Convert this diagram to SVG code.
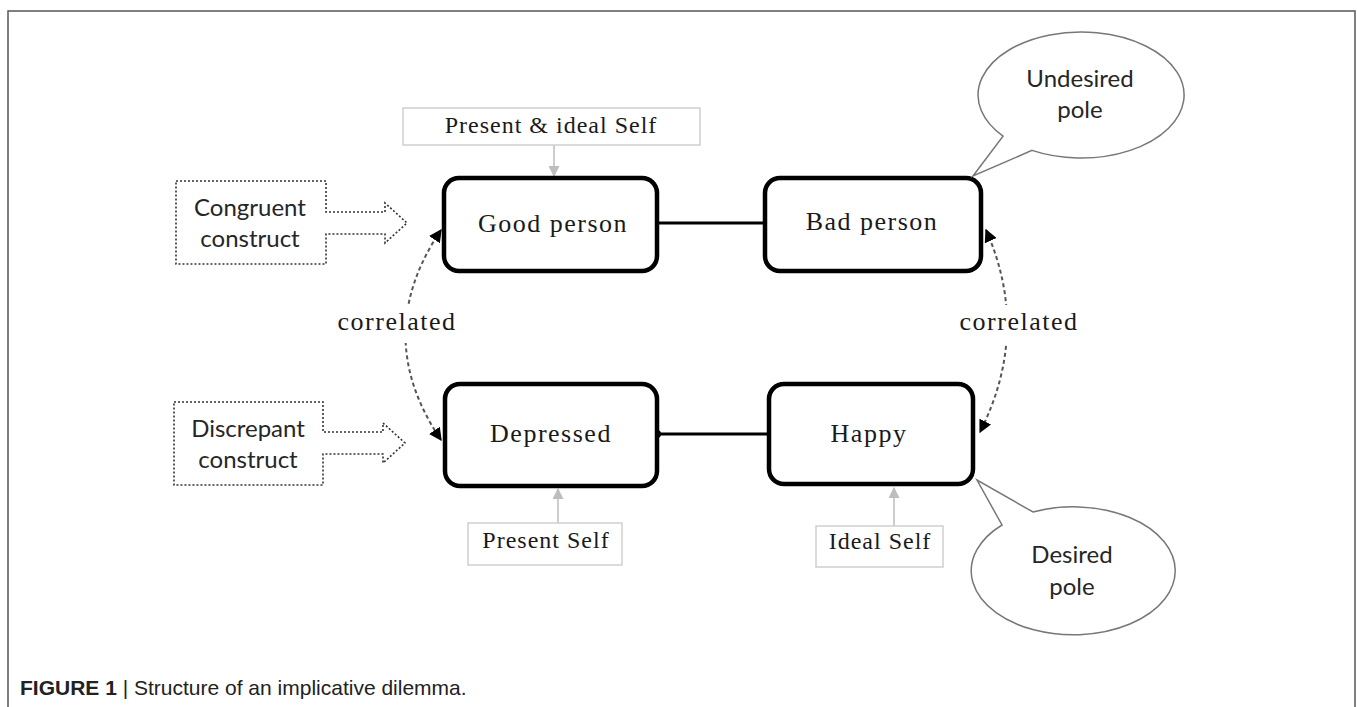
<svg xmlns="http://www.w3.org/2000/svg" width="1357" height="707" viewBox="0 0 1357 707">
<defs>
<style>
.node rect { fill:#fff; stroke:#000; stroke-width:4.5; }
.serif { font-family:"Liberation Serif","Times New Roman",serif; fill:#1a1a1a; }
.lbl { font-size:26px; letter-spacing:1.5px; text-anchor:middle; }
.self rect { fill:#fff; stroke:#cfcfcf; stroke-width:1.5; }
.self text { font-size:24px; letter-spacing:1px; text-anchor:middle; }
.sans { font-family:Lato,"Open Sans",sans-serif; font-size:24px; fill:#262626; text-anchor:middle; }
.dotted { fill:#fff; stroke:#333; stroke-width:1.6; stroke-dasharray:2 2; }
.bubble { fill:#fff; stroke:#777; stroke-width:1.5; }
.corr { fill:none; stroke:#555; stroke-width:2; stroke-dasharray:4 3; }
.gray { stroke:#bdbdbd; stroke-width:1.5; }
.solid { stroke:#000; stroke-width:3; }
.cap { font-family:"Liberation Sans",Arial,sans-serif; font-size:21px; fill:#222; }
</style>
<marker id="blk" viewBox="0 0 10 10" refX="9" refY="5" markerWidth="13" markerHeight="13" markerUnits="userSpaceOnUse" orient="auto-start-reverse"><path d="M0,0 L10,5 L0,10 z" fill="#000"/></marker>
<marker id="gry" viewBox="0 0 10 10" refX="9" refY="5" markerWidth="11" markerHeight="11" markerUnits="userSpaceOnUse" orient="auto"><path d="M0,0 L10,5 L0,10 z" fill="#bdbdbd"/></marker>
</defs>
<rect width="1357" height="707" fill="#fff"/>
<rect x="8" y="11" width="1347" height="710" fill="none" stroke="#555" stroke-width="1.5"/>

<g id="connectors">
<line class="solid" x1="657" y1="223" x2="765" y2="223"/>
<line class="solid" x1="657" y1="434" x2="769" y2="434"/>
<circle cx="657" cy="434" r="4" fill="#000"/>
<line class="gray" x1="554" y1="145" x2="554" y2="176" marker-end="url(#gry)"/>
<line class="gray" x1="558" y1="523" x2="558" y2="489" marker-end="url(#gry)"/>
<line class="gray" x1="894" y1="526" x2="894" y2="488" marker-end="url(#gry)"/>
<path class="corr" d="M441,230 Q370,335 441,440" marker-start="url(#blk)" marker-end="url(#blk)"/>
<path class="corr" d="M986,230 Q1031,331 980,432" marker-start="url(#blk)" marker-end="url(#blk)"/>
<rect x="334" y="305" width="126" height="38" fill="#fff"/>
<text class="serif lbl" x="397" y="330">correlated</text>
<rect x="956" y="305" width="126" height="38" fill="#fff"/>
<text class="serif lbl" x="1019" y="330">correlated</text>
</g>

<g id="good" class="node"><rect x="444" y="178" width="213" height="93" rx="15"/><text class="serif lbl" x="553" y="232">Good person</text></g>
<g id="bad" class="node"><rect x="765" y="178" width="216" height="93" rx="15"/><text class="serif lbl" x="872" y="230">Bad person</text></g>
<g id="depressed" class="node"><rect x="445" y="384" width="212" height="102" rx="15"/><text class="serif lbl" x="551" y="442">Depressed</text></g>
<g id="happy" class="node"><rect x="769" y="384" width="204" height="100" rx="15"/><text class="serif lbl" x="869" y="442">Happy</text></g>

<g id="present-ideal" class="self"><rect x="403" y="108" width="297" height="37"/><text class="serif" x="551" y="133">Present &amp; ideal Self</text></g>
<g id="present" class="self"><rect x="468" y="523" width="154" height="42"/><text class="serif" x="546" y="548">Present Self</text></g>
<g id="ideal" class="self"><rect x="816" y="526" width="127" height="41"/><text class="serif" x="880" y="549">Ideal Self</text></g>

<g id="congruent"><path class="dotted" d="M176,181 H326 V212 H385 V203 L407,223 L385,243 V234 H326 V264 H176 Z"/><text class="sans" x="250" y="216">Congruent</text><text class="sans" x="250" y="247">construct</text></g>
<g id="discrepant"><path class="dotted" d="M174,402 H323 V432 H383 V423 L405,443 L383,463 V454 H323 V485 H174 Z"/><text class="sans" x="248" y="437">Discrepant</text><text class="sans" x="248" y="468">construct</text></g>

<g id="undesired"><path class="bubble" d="M1032,150.4 A103,63 0 1 0 1003,136.1 L973,176 Z"/><text class="sans" x="1080" y="87">Undesired</text><text class="sans" x="1080" y="118">pole</text></g>
<g id="desired"><path class="bubble" d="M1033,512 A102,64 0 1 1 1002,525 L977,480 Z"/><text class="sans" x="1072" y="563">Desired</text><text class="sans" x="1072" y="595">pole</text></g>

<text class="cap" x="20" y="695"><tspan font-weight="bold">FIGURE 1</tspan> | Structure of an implicative dilemma.</text>
</svg>
